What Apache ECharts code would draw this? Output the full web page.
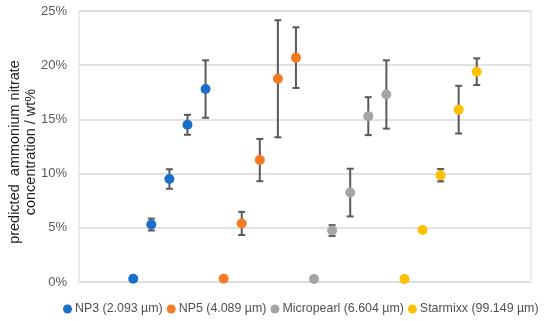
<!DOCTYPE html>
<html><head><meta charset="utf-8">
<script src="https://cdn.jsdelivr.net/npm/echarts@6/dist/echarts.min.js"></script>
<style>html,body{margin:0;padding:0;background:#fff}#c{width:550px;height:321px}</style>
</head><body><div id="c"></div>
<script>
const seriesNames = ['NP3 (2.093 µm)', 'NP5 (4.089 µm)', 'Micropearl (6.604 µm)', 'Starmixx (99.149 µm)'];
const colors = ['#1a6fc9', '#f47a24', '#a5a5a5', '#ffc000'];
// x slot of each point (sample order along the chart)
const np3X = [3, 4, 5, 6, 7];
const np5X = [8, 9, 10, 11, 12];
const microX = [13, 14, 15, 16, 17];
const starX = [18, 19, 20, 21, 22];
// predicted concentration (wt%)
const np3Y = [0.3, 5.3, 9.5, 14.5, 17.8];
const np5Y = [0.3, 5.4, 11.25, 18.75, 20.7];
const microY = [0.28, 4.75, 8.25, 15.3, 17.3];
const starY = [0.28, 4.8, 9.85, 15.9, 19.4];
// error (± wt%)
const np3Err = [0, 0.55, 0.9, 0.92, 2.65];
const np5Err = [0, 1.07, 1.95, 5.4, 2.8];
const microErr = [0, 0.5, 2.2, 1.75, 3.15];
const starErr = [0, 0.12, 0.57, 2.2, 1.23];
const yTicks = [0, 5, 10, 15, 20, 25];

const groups = [[np3X, np3Y, np3Err], [np5X, np5Y, np5Err], [microX, microY, microErr], [starX, starY, starErr]];

const series = [];
groups.forEach((g, i) => {
  const errData = g[0].map((x, k) => [x, g[1][k] - g[2][k], g[1][k] + g[2][k], g[2][k]]);
  series.push({
    type: 'custom',
    silent: true,
    z: 1,
    renderItem: function (params, api) {
      if (api.value(3) <= 0) return null;
      const lo = api.coord([api.value(0), api.value(1)]);
      const hi = api.coord([api.value(0), api.value(2)]);
      const w = 3.5;
      const st = { stroke: '#595959', lineWidth: 2 };
      return { type: 'group', children: [
        { type: 'line', shape: { x1: lo[0], y1: lo[1], x2: hi[0], y2: hi[1] }, style: st },
        { type: 'line', shape: { x1: lo[0] - w, y1: lo[1], x2: lo[0] + w, y2: lo[1] }, style: st },
        { type: 'line', shape: { x1: hi[0] - w, y1: hi[1], x2: hi[0] + w, y2: hi[1] }, style: st }
      ]};
    },
    encode: { x: 0, y: [1, 2] },
    data: errData
  });
  series.push({
    name: seriesNames[i],
    type: 'scatter',
    z: 3,
    symbol: 'circle',
    symbolSize: 10,
    itemStyle: { color: colors[i], opacity: 1 },
    data: g[0].map((x, k) => [x, g[1][k]])
  });
});

const chart = echarts.init(document.getElementById('c'), null, { renderer: 'canvas' });
chart.setOption({
  animation: false,
  backgroundColor: '#fff',
  textStyle: { fontFamily: 'Liberation Sans, Arial, sans-serif' },
  grid: { left: 79, right: 19, top: 11, bottom: 39, show: true, borderColor: '#d9d9d9', borderWidth: 1 },
  legend: {
    data: seriesNames,
    bottom: 1,
    left: 58,
    width: 492,
    icon: 'circle',
    itemWidth: 9,
    itemHeight: 9,
    itemGap: 4,
    textStyle: { color: '#505050', fontSize: 12.4, padding: [0, 0, 0, -2] }
  },
  xAxis: { type: 'value', min: 0, max: 25, show: false },
  yAxis: {
    type: 'value', min: 0, max: 25, interval: 5,
    axisLine: { show: false }, axisTick: { show: false },
    splitLine: { lineStyle: { color: '#d9d9d9', width: 1.5 } },
    axisLabel: { formatter: v => yTicks.includes(v) ? v + '%' : '', color: '#595959', fontSize: 13, margin: 12 }
  },
  graphic: [{
    type: 'text',
    x: 23, y: 152,
    rotation: Math.PI / 2,
    style: {
      text: 'predicted  ammonium nitrate\nconcentration / wt%',
      font: '14.5px "Liberation Sans", Arial, sans-serif',
      fill: '#222',
      align: 'center',
      verticalAlign: 'middle',
      lineHeight: 16
    }
  }],
  series: series
});
</script></body></html>
